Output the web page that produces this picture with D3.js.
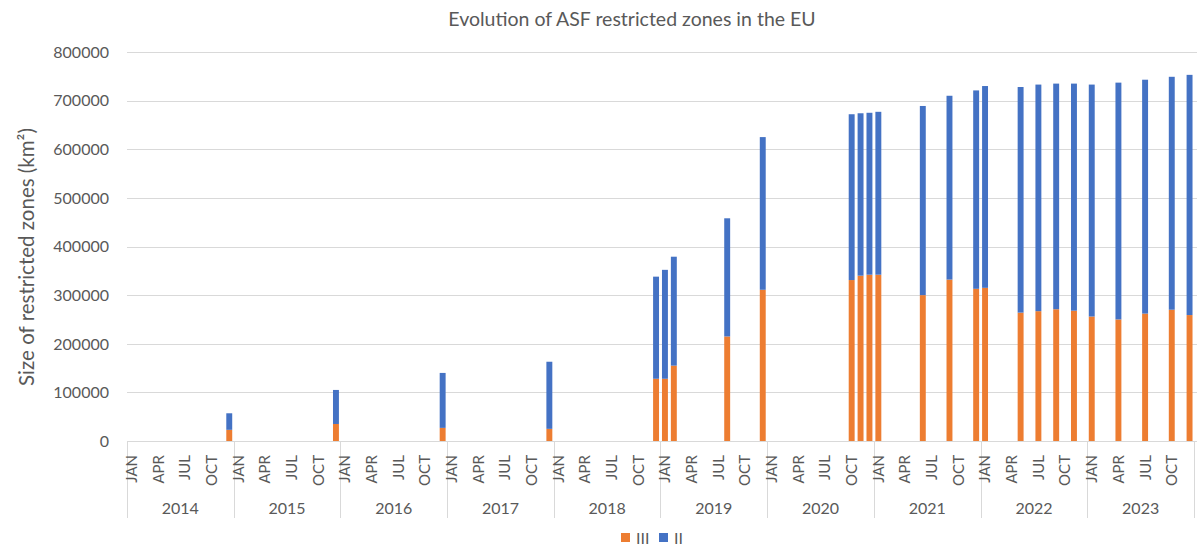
<!DOCTYPE html>
<html>
<head>
<meta charset="utf-8">
<script src="https://cdn.jsdelivr.net/npm/d3@7"></script>
<style>
    body { margin: 0; background: white; }
    svg text { font-family: Lato, "Open Sans", sans-serif; fill: #595959; }
</style>
</head>
<body>
<div id="chartdiv"></div>
<script>
/*global d3 */

var years = ["2014", "2015", "2016", "2017", "2018",
             "2019", "2020", "2021", "2022", "2023"];
var monthNames = ["JAN", "FEB", "MAR", "APR", "MAY", "JUN",
                  "JUL", "AUG", "SEP", "OCT", "NOV", "DEC"];
var yTicks = [0, 100000, 200000, 300000, 400000, 500000, 600000, 700000, 800000];

//months that have a reported value (year-month)
var barMonths = ["2014-12", "2015-12", "2016-12", "2017-12", "2018-12",
                 "2019-01", "2019-02", "2019-08", "2019-12",
                 "2020-10", "2020-11", "2020-12",
                 "2021-01", "2021-06", "2021-09", "2021-12",
                 "2022-01", "2022-05", "2022-07", "2022-09", "2022-11",
                 "2023-01", "2023-04", "2023-07", "2023-10", "2023-12"];
//zone III (km2)
var zoneIII = [23000, 35000, 27000, 25000, 128000,
               128000, 155000, 215000, 311000,
               331000, 340000, 342000,
               342000, 300000, 332000, 313000,
               315000, 264000, 267000, 271000, 268000,
               256000, 250000, 262000, 270000, 259000];
//zone II (km2), stacked on top of III
var zoneII = [34000, 70000, 113000, 138000, 210000,
              224000, 224000, 243000, 314000,
              341000, 334000, 333000,
              335000, 389000, 378000, 408000,
              415000, 464000, 466000, 464000, 467000,
              477000, 487000, 481000, 479000, 494000];

var seriesNames = ["III", "II"];
var seriesColors = ["#ed7d31", "#4472c4"];

(function () {
    "use strict";

    var W = 1201, H = 546,
        plot = {left: 127, right: 1194, top: 52, bottom: 441},
        gridcolor = "#d9d9d9",
        cats = [], rows, stack, x, y, svg, g;

    //all 120 month categories
    years.forEach(function (yr) {
        monthNames.forEach(function (mn, i) {
            cats.push({key: yr + "-" + String(i + 1).padStart(2, "0"),
                       year: yr, month: mn, idx: i}); }); });

    rows = barMonths.map(function (m, i) {
        return {key: m, III: zoneIII[i], II: zoneII[i]}; });
    stack = d3.stack().keys(seriesNames)(rows);

    x = d3.scaleBand()
        .domain(cats.map(function (c) { return c.key; }))
        .range([plot.left, plot.right])
        .paddingInner(0.333).paddingOuter(0.1665);
    y = d3.scaleLinear().domain([0, 800000])
        .range([plot.bottom, plot.top]);

    svg = d3.select("#chartdiv").append("svg")
        .attr("width", W).attr("height", H);

    //title
    svg.append("text")
        .attr("x", 632).attr("y", 26)
        .attr("text-anchor", "middle")
        .style("font-size", "19.5px")
        .text("Evolution of ASF restricted zones in the EU");

    //gridlines and y labels
    g = svg.append("g");
    g.selectAll("line").data(yTicks.slice(1)).join("line")
        .attr("x1", plot.left).attr("x2", plot.right + 3)
        .attr("y1", function (d) { return Math.round(y(d)) + 0.5; })
        .attr("y2", function (d) { return Math.round(y(d)) + 0.5; })
        .style("stroke", gridcolor).style("stroke-width", 1);
    g.selectAll("text").data(yTicks).join("text")
        .attr("x", 109).attr("y", function (d) { return y(d); })
        .attr("dy", "0.36em")
        .attr("text-anchor", "end")
        .style("font-size", "16px")
        .text(function (d) { return d; });

    //y axis title
    svg.append("text")
        .attr("transform", "translate(34,257) rotate(-90)")
        .attr("text-anchor", "middle")
        .style("font-size", "20.5px")
        .text("Size of restricted zones (km²)");

    //stacked bars
    svg.append("g").selectAll("g").data(stack).join("g")
        .style("fill", function (d, i) { return seriesColors[i]; })
        .selectAll("rect").data(function (d) { return d; }).join("rect")
        .attr("x", function (d) { return x(d.data.key); })
        .attr("width", x.bandwidth())
        .attr("y", function (d) { return y(d[1]); })
        .attr("height", function (d) { return y(d[0]) - y(d[1]); });

    //category axis: baseline, year separators, month + year labels
    g = svg.append("g");
    g.append("line")
        .attr("x1", plot.left).attr("x2", plot.right + 3)
        .attr("y1", plot.bottom + 0.5).attr("y2", plot.bottom + 0.5)
        .style("stroke", gridcolor);
    years.concat(["end"]).forEach(function (yr, i) {
        var xb = i < years.length ? x(yr + "-01") - x.step() * x.paddingOuter()
                                 : plot.right;
        g.append("line")
            .attr("x1", Math.round(xb) + 0.5).attr("x2", Math.round(xb) + 0.5)
            .attr("y1", plot.bottom).attr("y2", 518)
            .style("stroke", gridcolor);
        if(i < years.length) {
            g.append("text")
                .attr("x", xb + 6 * x.step()).attr("y", 514)
                .attr("text-anchor", "middle")
                .style("font-size", "16px")
                .text(yr); } });
    g.selectAll("text.month")
        .data(cats.filter(function (c) { return c.idx % 3 === 0; }))
        .join("text").attr("class", "month")
        .attr("transform", function (c) {
            return "translate(" + (x(c.key) + x.bandwidth() / 2) + ",455) rotate(-90)"; })
        .attr("dy", "0.36em")
        .attr("text-anchor", "end")
        .style("font-size", "15px")
        .text(function (c) { return c.month; });

    //legend
    g = svg.append("g");
    seriesNames.forEach(function (nm, i) {
        var lx = [621, 659][i];
        g.append("rect")
            .attr("x", lx).attr("y", 533).attr("width", 9).attr("height", 9)
            .style("fill", seriesColors[i]);
        g.append("text")
            .attr("x", lx + 15).attr("y", 538).attr("dy", "0.36em")
            .style("font-size", "16px")
            .text(nm); });
}());
</script>
</body>
</html>
